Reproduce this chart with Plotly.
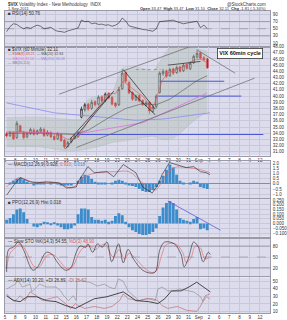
import plotly.graph_objects as go
from plotly.subplots import make_subplots

# ---------------- data ----------------
day_labels = ["5", "8", "9", "10", "11", "12", "15", "16", "17", "18", "19", "22", "23",
              "24", "25", "26", "29", "30", "31", "Sep", "2", "6", "7", "8", "9", "12"]
bars_per_day = 3

opens = [33.9, 33.6, 34.0, 33.3, 35.2, 34.1, 33.4, 33.9, 34.5, 33.9,
         34.3, 34.6, 33.7, 34.1, 33.5, 33.1, 33.8, 32.9, 31.9, 32.6,
         33.2, 33.5, 36.6, 37.8, 38.7, 38.0, 39.1, 38.7, 39.9, 39.3,
         40.4, 39.8, 38.9, 38.6, 41.2, 43.8, 42.2, 40.6, 39.4, 40.1,
         39.3, 38.5, 39.0, 37.5, 38.3, 40.6, 43.6, 44.1, 43.3, 44.4,
         43.8, 44.7, 44.1, 45.1, 44.4, 45.4, 46.3, 47.0, 46.2, 46.0]
highs = [34.2, 34.4, 34.3, 36.0, 35.4, 34.4, 34.2, 34.9, 34.8, 34.6,
         35.0, 34.9, 34.5, 34.4, 33.8, 34.2, 34.0, 33.1, 32.8, 33.4,
         33.9, 34.4, 38.3, 38.9, 38.9, 39.4, 39.3, 40.1, 40.1, 40.6,
         40.6, 40.0, 39.0, 41.5, 44.3, 44.0, 42.5, 40.8, 40.3, 40.3,
         39.5, 39.2, 39.2, 38.5, 40.3, 44.0, 44.4, 44.3, 44.6, 44.6,
         44.9, 44.9, 45.3, 45.3, 45.6, 46.7, 47.4, 47.2, 46.5, 46.2]
lows = [33.3, 33.4, 32.9, 33.1, 34.0, 33.0, 33.2, 33.7, 33.6, 33.7,
        34.1, 33.4, 33.5, 33.2, 32.8, 32.9, 32.6, 31.5, 31.7, 32.4,
        33.0, 33.3, 36.4, 37.5, 37.6, 37.8, 38.3, 38.5, 38.9, 39.0,
        39.5, 38.5, 38.1, 38.4, 41.0, 42.1, 40.3, 39.2, 39.2, 39.0,
        38.4, 38.3, 37.1, 37.3, 38.0, 40.4, 43.3, 42.9, 43.1, 43.4,
        43.6, 43.8, 43.9, 44.2, 44.2, 45.2, 46.1, 45.9, 45.6, 44.4]
closes = [33.6, 34.1, 33.1, 35.6, 34.2, 33.3, 33.9, 34.6, 33.8, 34.4,
          34.7, 33.6, 34.2, 33.4, 33.0, 33.9, 32.8, 31.8, 32.5, 33.1,
          33.6, 34.1, 37.9, 38.6, 37.9, 39.0, 38.6, 39.8, 39.2, 40.3,
          39.7, 38.7, 38.4, 41.1, 43.7, 42.4, 40.5, 39.5, 40.0, 39.2,
          38.6, 38.9, 37.6, 38.2, 40.0, 43.7, 44.0, 43.2, 44.3, 43.7,
          44.6, 44.0, 45.0, 44.5, 45.3, 46.4, 46.9, 46.1, 45.9, 44.6]

rsi = [42, 56, 64, 62, 55, 50, 54, 51, 56, 60, 57, 50, 52, 54, 47, 43, 42, 40, 44, 47,
       49, 52, 74, 70, 71, 64, 66, 62, 63, 60, 61, 57, 60, 66, 80, 72, 58, 55, 52, 50,
       48, 47, 44, 43, 50, 70, 71, 72, 73, 74, 70, 66, 64, 66, 68, 70, 71, 53, 60, 51]
rsi_levels = [30, 70]
stoch_levels = [20, 80]
mid_level = 50

# overlays (bar index, price)
ema_x = [0, 4, 8, 12, 15, 18, 21, 24, 27, 30, 32, 34.3, 37, 40, 42.8, 44, 45.7, 47.5, 52, 55, 57, 59]
ema_y = [33.9, 34.3, 34.0, 34.1, 33.8, 33.0, 33.3, 36.0, 38.3, 40.5, 40.4, 42.4, 41.2, 40.0, 38.0, 39.5,
         42.5, 43.8, 44.8, 45.8, 46.0, 45.4]
sma_x = [0, 10, 20, 24, 30, 35, 40, 44, 48, 52, 56, 59]
sma_y = [34.0, 34.0, 33.8, 34.5, 36.5, 38.0, 38.8, 38.6, 39.5, 41.0, 42.5, 43.3]
mag_x = [0, 21, 40, 59]
mag_y = [34.3, 33.9, 35.7, 40.5]
pur_x = [0, 14, 38, 46, 59.8]
pur_y = [38.9, 37.3, 36.1, 36.3, 37.3]
bbu_x = [0, 10, 20, 22, 24, 28, 31, 34, 40, 43, 45, 48, 52, 56, 59]
bbu_y = [36.5, 36.6, 36.2, 36.3, 39.5, 40.0, 40.5, 44.5, 44.5, 44.0, 45.5, 47.8, 47.9, 47.6, 47.3]
bbl_x = [0, 10, 17, 22, 24, 28, 31, 34, 40, 43, 46, 49, 52, 55, 59]
bbl_y = [31.8, 31.8, 31.2, 31.3, 31.5, 32.0, 32.5, 32.7, 33.3, 33.5, 33.0, 33.2, 34.5, 36.0, 37.5]

# hand drawn lines on the price panel: [x0, x1], [y0, y1]
gray_lines = [([15.4, 56.5], [40.3, 48.5]), ([20.5, 72.9], [31.7, 42.9]), ([55.9, 67.2], [47.5, 43.7])]
black_lines = [([17.3, 31.5], [31.5, 40.8]), ([18.7, 30.1], [33.1, 40.0]),
               ([34.3, 43.7], [44.3, 37.9]), ([35.8, 43.7], [41.1, 37.0]), ([47.4, 57.0], [45.0, 45.6])]
blue_levels = [([21, 75.5], 33.8), ([44.5, 69], 40.0), ([45, 64], 42.4)]
dashed_level = ([38, 45.3], 44.3)

macd_x = [0, 2.6, 4.0, 6.9, 8.8, 11.7, 15.4, 17.6, 20.5, 21.0, 23.9, 25.8, 29.5, 31.5, 34.3, 35.7,
          38.0, 40.0, 42.8, 44.5, 45.7, 47.9, 49.9, 52.8, 55.0, 57.0, 58.7, 59.8]
macd_y = [-1.1, 0.1, 0.6, 0.2, 0.1, 0.2, 0.1, -0.4, -0.3, 0.2, 1.7, 1.1, 1.2, 0.7, 1.9, 1.6,
          1.1, -0.3, -0.9, -0.1, 0.9, 2.1, 1.9, 1.6, 1.7, 1.2, 1.1, 0.9]
sig_x = [0, 3.5, 7.7, 15.4, 19.0, 23.0, 26.7, 32.3, 36.0, 40.0, 43.7, 46.5, 49.3, 53.0, 57.0, 59.8]
sig_y = [-0.3, 0.6, 0.2, 0.1, -0.4, 0.7, 1.1, 1.2, 1.2, 0.1, -0.6, 0.7, 1.6, 1.6, 1.4, 1.1]
macd_hist = [0.0, 0.1, 0.3, 0.5, 0.6, 0.4, 0.2, 0.0, -0.1, 0.05,
             0.1, 0.05, 0.0, 0.05, 0.0, -0.05, -0.1, -0.15, -0.15, -0.1,
             0.0, 0.3, 0.7, 0.9, 0.8, 0.5, 0.2, 0.1, 0.1, 0.05,
             0.0, 0.1, 0.3, 0.4, 0.3, 0.1, -0.1, -0.2, -0.3, -0.5,
             -0.7, -0.8, -0.8, -0.6, -0.3, 0.3, 0.8, 1.4, 1.9, 1.6,
             0.9, 0.3, 0.05, 0.0, 0.1, 0.3, 0.2, -0.3, -0.4, -0.5]
hist2 = [0.04, 0.06, 0.10, 0.15, 0.16, 0.12, 0.05, 0.0, -0.03, -0.04,
         -0.02, 0.02, 0.01, -0.01, 0.01, -0.02, -0.04, -0.06, -0.06, -0.05,
         -0.02, 0.10, 0.16, 0.16, 0.15, 0.07, 0.04, 0.04, 0.03, 0.04,
         0.02, 0.03, 0.08, 0.11, 0.09, 0.02, -0.04, -0.07, -0.09, -0.11,
         -0.12, -0.12, -0.11, -0.09, -0.05, 0.08, 0.17, 0.22, 0.24, 0.22,
         0.15, 0.06, 0.04, 0.03, 0.02, 0.05, 0.07, -0.06, -0.05, -0.07]
hist2_line = ([47.4, 62.9], [0.24, -0.07])

stk_x = [0, 0.6, 2.0, 3.5, 4.9, 7.7, 9.1, 11.7, 13.4, 14.8, 17.3, 18.8, 20.5, 21.6, 23.3, 23.9,
         25.3, 26.7, 28.1, 29.5, 30.9, 32.9, 34.3, 35.7, 37.4, 40.0, 42.3, 43.7, 45.1, 46.5,
         49.3, 51.3, 52.2, 53.6, 55.0, 56.4, 57.8, 59.3, 59.9]
stk_y = [9, 71, 77, 91, 71, 14, 23, 63, 57, 37, 14, 20, 63, 80, 77, 86,
         63, 86, 77, 91, 37, 86, 34, 71, 43, 14, 6, 9, 71, 91,
         86, 57, 23, 51, 91, 77, 37, 63, 57]
std_x = [0, 1, 2.5, 4, 5.5, 8, 9.5, 12, 14, 15.5, 17.8, 19.3, 21, 22.5, 24.5, 26, 27.5, 29,
         31.3, 33, 34.7, 36, 38, 40.5, 42.5, 44, 45.6, 47, 49.8, 51.8, 52.8, 54.2, 55.5, 57,
         58.3, 59.9]
std_y = [20, 60, 75, 85, 70, 25, 22, 55, 55, 40, 18, 22, 55, 75, 80, 70, 80, 85,
         50, 70, 45, 60, 45, 20, 8, 12, 55, 85, 85, 62, 35, 48, 80, 75,
         45, 50]

adx_x = [0, 2.0, 4.0, 6.0, 8.8, 11.7, 14.5, 17.3, 20.2, 23.0, 25.8, 29.5, 34.3, 36.0, 38.0,
         41.7, 44.5, 46.5, 48.5, 51.3, 53.6, 55.9, 58.7, 59.9]
adx_y = [30.8, 24.4, 23.1, 29.5, 29.5, 24.4, 23.1, 17.9, 14.1, 20.5, 26.9, 29.5, 35.9, 30.8, 24.4,
         23.1, 20.5, 26.9, 37.2, 37.2, 42.3, 48.7, 39.7, 35.9]
pdi_x = [0, 2.6, 3.2, 4.6, 6.9, 7.4, 8.8, 9.7, 11.7, 14.5, 15.9, 16.8, 18.2, 19.6, 20.5, 20.7,
         22.4, 24.4, 26.7, 28.7, 30.1, 31.8, 32.9, 34.3, 35.7, 37.2, 38.9, 41.7, 43.7, 44.5,
         45.7, 47.4, 49.3, 50.8, 53.0, 55.0, 57.0, 57.8, 58.7, 59.9]
pdi_y = [39.7, 46.2, 52.6, 42.3, 46.2, 35.9, 42.3, 46.2, 42.3, 42.3, 37.2, 30.8, 24.4, 30.8, 24.4, 52.6,
         50.0, 48.7, 43.6, 46.2, 42.3, 39.7, 53.0, 50.0, 37.2, 30.8, 24.4, 26.9, 24.4, 39.7,
         42.3, 37.2, 37.2, 39.7, 37.2, 35.9, 29.5, 23.1, 29.5, 26.9]
mdi_x = [0, 1.2, 2.6, 4.0, 5.4, 6.9, 8.8, 10.5, 12.5, 14.8, 17.3, 18.8, 20.2, 21.0, 23.0, 25.8,
         28.7, 31.0, 33.2, 34.3, 35.7, 38.9, 40.9, 42.8, 44.5, 45.7, 47.4, 50.2, 53.0, 55.9,
         57.0, 58.4, 59.8]
mdi_y = [33.3, 26.9, 24.4, 30.8, 24.4, 35.9, 30.8, 24.4, 26.9, 29.5, 20.5, 14.1, 20.5, 17.9, 14.1, 16.7,
         14.1, 16.7, 24.4, 33.3, 26.9, 24.4, 26.9, 26.9, 24.4, 17.9, 14.1, 16.7, 11.5, 10.3,
         16.7, 30.8, 33.3]

# ---------------- figure ----------------
W, H = 287, 320
FONT = "Liberation Sans"
BG = "#dcdcec"
GRID = "#c8c8dc"
TXT = "#333333"

fig = make_subplots(rows=6, cols=1, shared_xaxes=True, vertical_spacing=0)

def dom(top, bot):
    return [1 - bot / H, 1 - top / H]

doms = [dom(9, 45), dom(45, 155), dom(161, 198), dom(199, 237), dom(239, 277), dom(278, 314)]

n = len(closes)
xs = list(range(n))
x_end = len(day_labels) * bars_per_day - 0.5

def hline(row, level, color, dash="solid", width=0.6):
    fig.add_trace(go.Scatter(x=[-0.5, x_end], y=[level, level], mode="lines",
                             line=dict(color=color, width=width, dash=dash)), row=row, col=1)

# RSI
for lv in rsi_levels:
    hline(1, lv, "#7a7a8a")
hline(1, mid_level, "#8a8a9a", dash="dash")
fig.add_trace(go.Scatter(x=xs, y=rsi, mode="lines", line=dict(color="#222222", width=0.6)), row=1, col=1)

# Bollinger band shading
fig.add_trace(go.Scatter(x=bbu_x, y=bbu_y, mode="lines", line=dict(color="rgba(150,160,160,0.5)", width=0.5),
                         line_shape="spline"), row=2, col=1)
fig.add_trace(go.Scatter(x=bbl_x, y=bbl_y, mode="lines", line=dict(color="rgba(150,160,160,0.5)", width=0.5),
                         line_shape="spline"), row=2, col=1)
fig.add_trace(go.Scatter(x=bbu_x + bbl_x[::-1], y=bbu_y + bbl_y[::-1], mode="lines", fill="toself",
                         fillcolor="rgba(175,188,180,0.45)", line=dict(width=0)), row=2, col=1)

for (lx, ly) in blue_levels:
    fig.add_trace(go.Scatter(x=lx, y=[ly, ly], mode="lines", line=dict(color="#4b55d6", width=1)), row=2, col=1)
fig.add_trace(go.Scatter(x=dashed_level[0], y=[dashed_level[1]] * 2, mode="lines",
                         line=dict(color="#b070e0", width=0.8, dash="dot")), row=2, col=1)
fig.add_trace(go.Scatter(x=pur_x, y=pur_y, mode="lines", line=dict(color="#8c8cf0", width=0.8)), row=2, col=1)
fig.add_trace(go.Scatter(x=mag_x, y=mag_y, mode="lines", line=dict(color="#e070e8", width=0.8)), row=2, col=1)
fig.add_trace(go.Scatter(x=sma_x, y=sma_y, mode="lines", line=dict(color="#555555", width=0.6)), row=2, col=1)
fig.add_trace(go.Scatter(x=ema_x, y=ema_y, mode="lines", line=dict(color="#e05050", width=0.6)), row=2, col=1)
for (lx, ly) in gray_lines:
    fig.add_trace(go.Scatter(x=lx, y=ly, mode="lines", line=dict(color="#666666", width=0.7)), row=2, col=1)
for (lx, ly) in black_lines:
    fig.add_trace(go.Scatter(x=lx, y=ly, mode="lines", line=dict(color="#222222", width=0.7)), row=2, col=1)

# candles: colour by close vs previous close, fill by close vs open
groups = {"#111111": [], "#e00000": []}
for i in range(n):
    prev = closes[i - 1] if i > 0 else opens[i]
    groups["#111111" if closes[i] >= prev else "#e00000"].append(i)
for col, idx in groups.items():
    fig.add_trace(go.Candlestick(
        x=[xs[i] for i in idx], open=[opens[i] for i in idx], high=[highs[i] for i in idx],
        low=[lows[i] for i in idx], close=[closes[i] for i in idx],
        increasing=dict(line=dict(color=col, width=0.7), fillcolor=BG),
        decreasing=dict(line=dict(color=col, width=0.7), fillcolor=col),
        whiskerwidth=0), row=2, col=1)

# MACD
fig.add_trace(go.Bar(x=xs, y=macd_hist, marker=dict(color="#3d8ccc", line=dict(width=0)), width=0.85), row=3, col=1)
fig.add_trace(go.Scatter(x=sig_x, y=sig_y, mode="lines", line=dict(color="#e06060", width=0.6), line_shape="spline"), row=3, col=1)
fig.add_trace(go.Scatter(x=macd_x, y=macd_y, mode="lines", line=dict(color="#222222", width=0.6)), row=3, col=1)

# second histogram
fig.add_trace(go.Bar(x=xs, y=hist2, marker=dict(color="#3d8ccc", line=dict(width=0)), width=0.85), row=4, col=1)
fig.add_trace(go.Scatter(x=hist2_line[0], y=hist2_line[1], mode="lines", line=dict(color="#5a5ae0", width=0.8)), row=4, col=1)

# stochastics
for lv in stoch_levels:
    hline(5, lv, "#7a7a8a")
hline(5, mid_level, "#8a8a9a", dash="dash")
fig.add_trace(go.Scatter(x=std_x, y=std_y, mode="lines", line=dict(color="#e06060", width=0.6), line_shape="spline"), row=5, col=1)
fig.add_trace(go.Scatter(x=stk_x, y=stk_y, mode="lines", line=dict(color="#222222", width=0.6), line_shape="spline"), row=5, col=1)

# ADX
fig.add_trace(go.Scatter(x=pdi_x, y=pdi_y, mode="lines", line=dict(color="#888888", width=0.6)), row=6, col=1)
fig.add_trace(go.Scatter(x=mdi_x, y=mdi_y, mode="lines", line=dict(color="#c06060", width=0.6)), row=6, col=1)
fig.add_trace(go.Scatter(x=adx_x, y=adx_y, mode="lines", line=dict(color="#222222", width=0.8)), row=6, col=1)

tickvals = [d * bars_per_day - 0.5 for d in range(len(day_labels))]
for r in range(1, 7):
    xa = "xaxis" if r == 1 else f"xaxis{r}"
    ya = "yaxis" if r == 1 else f"yaxis{r}"
    fig.layout[xa].update(domain=[4 / W, 272 / W], range=[-0.5, x_end],
                          tickvals=tickvals, ticktext=day_labels, showgrid=True, gridcolor=GRID,
                          gridwidth=0.6, showline=True, linecolor="#9a9aa8", linewidth=0.6, mirror=True,
                          zeroline=False, ticks="", tickfont=dict(size=4.5, color=TXT, family=FONT),
                          rangeslider=dict(visible=False), showticklabels=(r in (2, 6)), ticklabelstandoff=0)
    fig.layout[ya].update(domain=doms[r - 1], side="right", showgrid=True, gridcolor=GRID, gridwidth=0.5,
                          showline=True, linecolor="#9a9aa8", linewidth=0.6, mirror=True, zeroline=False,
                          ticks="", tickfont=dict(size=4.5, color=TXT, family=FONT), ticklabelstandoff=1)

fig.layout.yaxis.update(range=[0, 100], tickvals=[10, 30, 50, 70, 90])
fig.layout.yaxis2.update(range=[30.4, 48], dtick=1, tickformat=".2f")
fig.layout.yaxis3.update(range=[-1.4, 2.2], dtick=0.5, tickformat=".1f", zeroline=True, zerolinecolor="#8a8a9a", zerolinewidth=0.5)
fig.layout.yaxis4.update(range=[-0.14, 0.26], dtick=0.05, tickformat=".3f")
fig.layout.yaxis5.update(range=[-3, 100], tickvals=[20, 50, 80])
fig.layout.yaxis6.update(range=[8, 55], tickvals=[10, 20, 30, 40, 50])

def note(text, x, y, size=4.5, color=TXT, xanchor="left", **kw):
    fig.add_annotation(text=text, x=x, y=y, xref="paper", yref="paper", showarrow=False,
                       xanchor=xanchor, yanchor="middle", font=dict(size=size, color=color, family=FONT), **kw)

X0 = 5 / W
note("<b>$VIX</b> Volatility Index - New Methodology  INDX", X0, 1 - 2.5 / H)
note("1-Sep-2011", X0, 1 - 6.8 / H, size=4)
note("@StockCharts.com", 270 / W, 1 - 2.5 / H, xanchor="right")
note("<b>Open</b> 33.47  <b>High</b> 33.47  <b>Low</b> 31.10  <b>Close</b> 32.11  <b>Chg</b> -1.81 (-5.34%)",
     270 / W, 1 - 6.8 / H, xanchor="right", size=4)
note("■ RSI(14) 50.76", X0, 1 - 11.8 / H)
note("■ $VIX (60 Minute) 32.11", X0, 1 - 48.3 / H)
note("<span style='color:#e05050'>— EMA(8) 33.21</span>  <span style='color:#555555'>— MA(20) 32.84</span>",
     X0, 1 - 52.8 / H, size=3.6)
note("<span style='color:#e070e8'>— MA(50) 32.56</span>  <span style='color:#8c8cf0'>— MA(200) 34.08</span>",
     X0, 1 - 57.3 / H, size=3.6)
note("<span style='color:#777777'>— BB(20,2.0)</span>", X0, 1 - 61.8 / H, size=3.6)
note("— MACD(12,26,9) 0.928, <span style='color:#e06060'>0.910</span>, <span style='color:#3d8ccc'>0.018</span>",
     X0, 1 - 164 / H)
note("■ PPO(12,26,9) Hist 0.018", X0, 1 - 202 / H)
note("— Slow STO %K(14,3) 54.55, <span style='color:#e06060'>%D(3) 48.90</span>", X0, 1 - 242 / H)
note("— ADX(14) 30.20, +DI 26.89, <span style='color:#c06060'>-DI 21.62</span>", X0, 1 - 281 / H)

fig.add_annotation(text="<b>VIX 60min cycle</b>", x=68.6, y=46.9, xref="x2", yref="y2", showarrow=False,
                   font=dict(size=5.5, color="#111111", family=FONT), bgcolor="white",
                   bordercolor="#333333", borderwidth=0.8, borderpad=1.5)

fig.update_layout(width=W, height=H, margin=dict(l=0, r=0, t=0, b=0), showlegend=False,
                  paper_bgcolor="white", plot_bgcolor=BG, bargap=0.15)
fig.write_html("out.html")
